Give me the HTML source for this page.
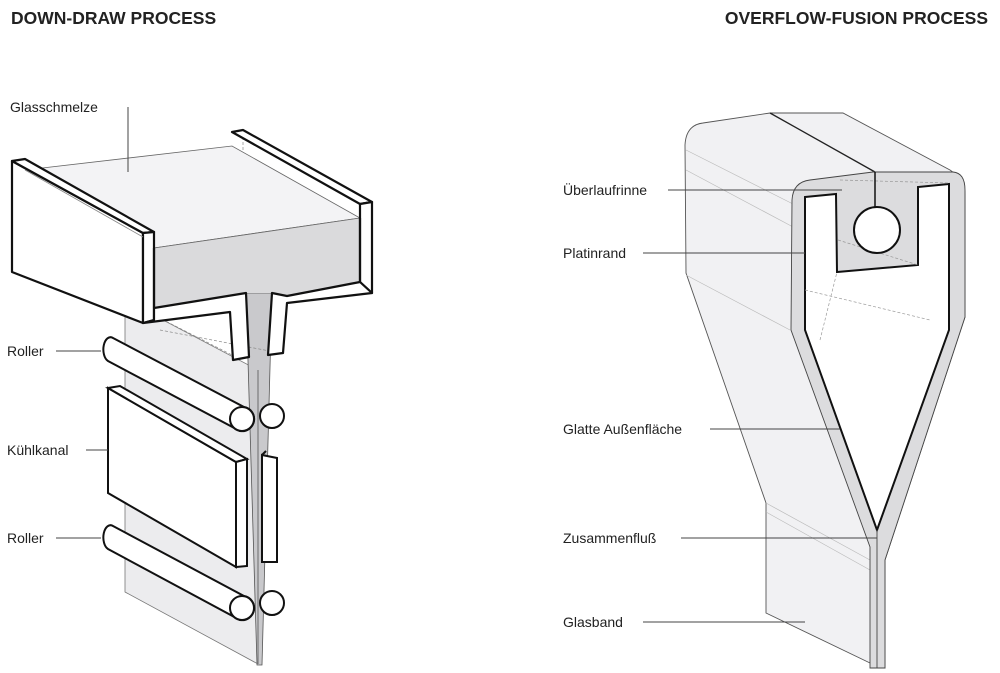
<!DOCTYPE html>
<html><head><meta charset="utf-8"><style>
html,body{margin:0;padding:0;background:#fff;}
svg{display:block;}
text{font-family:"Liberation Sans",sans-serif;fill:#222;}
.t{font-weight:bold;font-size:17.5px;}
.l{font-size:14px;}
</style></head><body>
<svg width="1000" height="673" viewBox="0 0 1000 673" xmlns="http://www.w3.org/2000/svg">
<text class="t" x="11" y="24">DOWN-DRAW PROCESS</text>
<text class="t" x="988" y="24" text-anchor="end">OVERFLOW-FUSION PROCESS</text>

<!-- LEFT: glass sheet -->
<polygon points="125,300 258,370 258,664 125,592" fill="#ececee" stroke="#777" stroke-width="0.8"/>
<!-- stream -->
<polygon points="246,293 272,293 262,665 257,665" fill="#c9c9cc" stroke="#555" stroke-width="0.8"/>

<!-- trough top surface -->
<polygon points="25,170 232,146 360,218 154,248" fill="#f3f3f5" stroke="#666" stroke-width="0.8"/>
<!-- front gray face -->
<polygon points="154,248 360,218 360,282 287,296 272,293 246,293 154,308" fill="#dadadc"/>
<polyline points="154,248 360,218" fill="none" stroke="#666" stroke-width="0.8"/>
<!-- hidden dashed lines -->
<g fill="none" stroke="#888" stroke-width="0.7" stroke-dasharray="3,2">
<polyline points="25,170 25,248 143,318"/>
<polyline points="25,248 105,280 105,290 232,355"/>
<polyline points="243,132 243,150"/>
<polyline points="287,303 360,285 372,290"/>
<line x1="160" y1="330" x2="280" y2="353"/>
</g>
<!-- left wall -->
<g fill="#fff" stroke="#111" stroke-width="2.2" stroke-linejoin="round">
<polygon points="12,161 143,233 143,323 12,272"/>
<polygon points="12,161 25,159 154,232 143,233"/>
<polygon points="143,233 154,232 154,320 143,323"/>
</g>
<line x1="25" y1="170" x2="143" y2="237" stroke="#888" stroke-width="0.8"/>
<!-- right wall -->
<g fill="#fff" stroke="#111" stroke-width="2.2" stroke-linejoin="round">
<polygon points="232,132 243,130 372,202 360,204"/>
<polygon points="360,204 372,202 372,293 360,282"/>
</g>
<!-- front outline with funnel -->
<g fill="#fff" stroke="#111" stroke-width="2.2" stroke-linejoin="round">
<polygon points="143,323 154,320 154,308 246,293 249,357 233,360 230,312"/>
<polygon points="272,293 287,296 360,282 372,293 287,303 283,353 268,355"/>
</g>
<polyline points="154,308 154,248" fill="none" stroke="#111" stroke-width="2.2"/>
<polyline points="360,218 360,282" fill="none" stroke="#111" stroke-width="2.2"/>
<!-- Glasschmelze leader -->
<line x1="128" y1="107" x2="128" y2="172" stroke="#444" stroke-width="1"/>
<text class="l" x="10" y="112">Glasschmelze</text>

<!-- rollers -->
<g fill="#fff" stroke="#111" stroke-width="2">
<path d="M113,338 L244,407 A12,12 0 0 1 240,431 L108,361 A7,12 0 0 1 113,338 Z"/>
<circle cx="242" cy="419" r="12"/>
<circle cx="272" cy="416" r="12"/>
<path d="M113,526 L244,596 A12,12 0 0 1 240,620 L108,549 A7,12 0 0 1 113,526 Z"/>
<circle cx="242" cy="608" r="12"/>
<circle cx="272" cy="603" r="12"/>
<!-- cooling plate -->
<polygon points="108,388 236,462 236,567 108,493"/>
<polygon points="108,388 120,386 247,459 236,462"/>
<polygon points="236,462 247,459 247,566 236,567"/>
<polygon points="262,455 277,458 277,562 262,562"/>
<line x1="262" y1="455" x2="266" y2="451"/>
</g>
<line x1="258" y1="370" x2="258" y2="664" stroke="#555" stroke-width="0.8"/>
<g stroke="#444" stroke-width="1">
<line x1="56" y1="351" x2="101" y2="351"/>
<line x1="86" y1="450" x2="108" y2="450"/>
<line x1="56" y1="538" x2="101" y2="538"/>
</g>
<text class="l" x="7" y="356">Roller</text>
<text class="l" x="7" y="455">Kühlkanal</text>
<text class="l" x="7" y="543">Roller</text>

<!-- RIGHT: housing silhouette -->
<path d="M685,145 Q686,125 703,123 L770,113 L843,113 L950,170 Q965,180 965,195 L965,317 L885,560 L885,668 L870,663 L766,613 L766,503 L686,273 Z" fill="#f1f1f3" stroke="#555" stroke-width="0.9"/>
<g stroke="#bbb" stroke-width="0.7" fill="none">
<line x1="686" y1="150" x2="795" y2="205"/>
<line x1="686" y1="170" x2="795" y2="228"/>
<line x1="770" y1="113" x2="875" y2="172"/>
<line x1="686" y1="275" x2="790" y2="330"/>
<line x1="766" y1="503" x2="870" y2="560"/>
<line x1="766" y1="512" x2="870" y2="570"/>
</g>
<line x1="770" y1="113" x2="875" y2="172" stroke="#222" stroke-width="1.3"/>
<!-- platinum rim -->
<path d="M792,200 Q793,182 810,180 L873,172 L953,172 Q965,173 965,190 L965,317 L885,560 L885,668 L870,668 L870,547 L791,330 Z" fill="#dcdcde" stroke="#444" stroke-width="0.9"/>
<!-- inner white -->
<path d="M805,197 L836,194 L837,272 L918,265 L918,187 L949,184 L949,330 L877,530 L805,330 Z" fill="#fff" stroke="#111" stroke-width="2"/>
<g stroke="#999" stroke-width="0.7" fill="none" stroke-dasharray="3,2">
<line x1="805" y1="290" x2="930" y2="320"/>
<line x1="840" y1="180" x2="950" y2="183"/>
<line x1="838" y1="240" x2="918" y2="265"/>
<line x1="820" y1="340" x2="837" y2="272"/>
</g>
<circle cx="877" cy="230" r="23" fill="#fff" stroke="#111" stroke-width="2"/>
<line x1="875" y1="172" x2="875" y2="207" stroke="#111" stroke-width="1.5"/>
<line x1="877" y1="530" x2="877" y2="668" stroke="#444" stroke-width="0.9"/>
<!-- leaders -->
<g stroke="#444" stroke-width="1">
<line x1="668" y1="190" x2="842" y2="190"/>
<line x1="643" y1="253" x2="805" y2="253"/>
<line x1="710" y1="429" x2="840" y2="429"/>
<line x1="681" y1="538" x2="877" y2="538"/>
<line x1="643" y1="622" x2="805" y2="622"/>
</g>
<text class="l" x="563" y="195">Überlaufrinne</text>
<text class="l" x="563" y="258">Platinrand</text>
<text class="l" x="563" y="434">Glatte Außenfläche</text>
<text class="l" x="563" y="543">Zusammenfluß</text>
<text class="l" x="563" y="627">Glasband</text>
</svg>
</body></html>
